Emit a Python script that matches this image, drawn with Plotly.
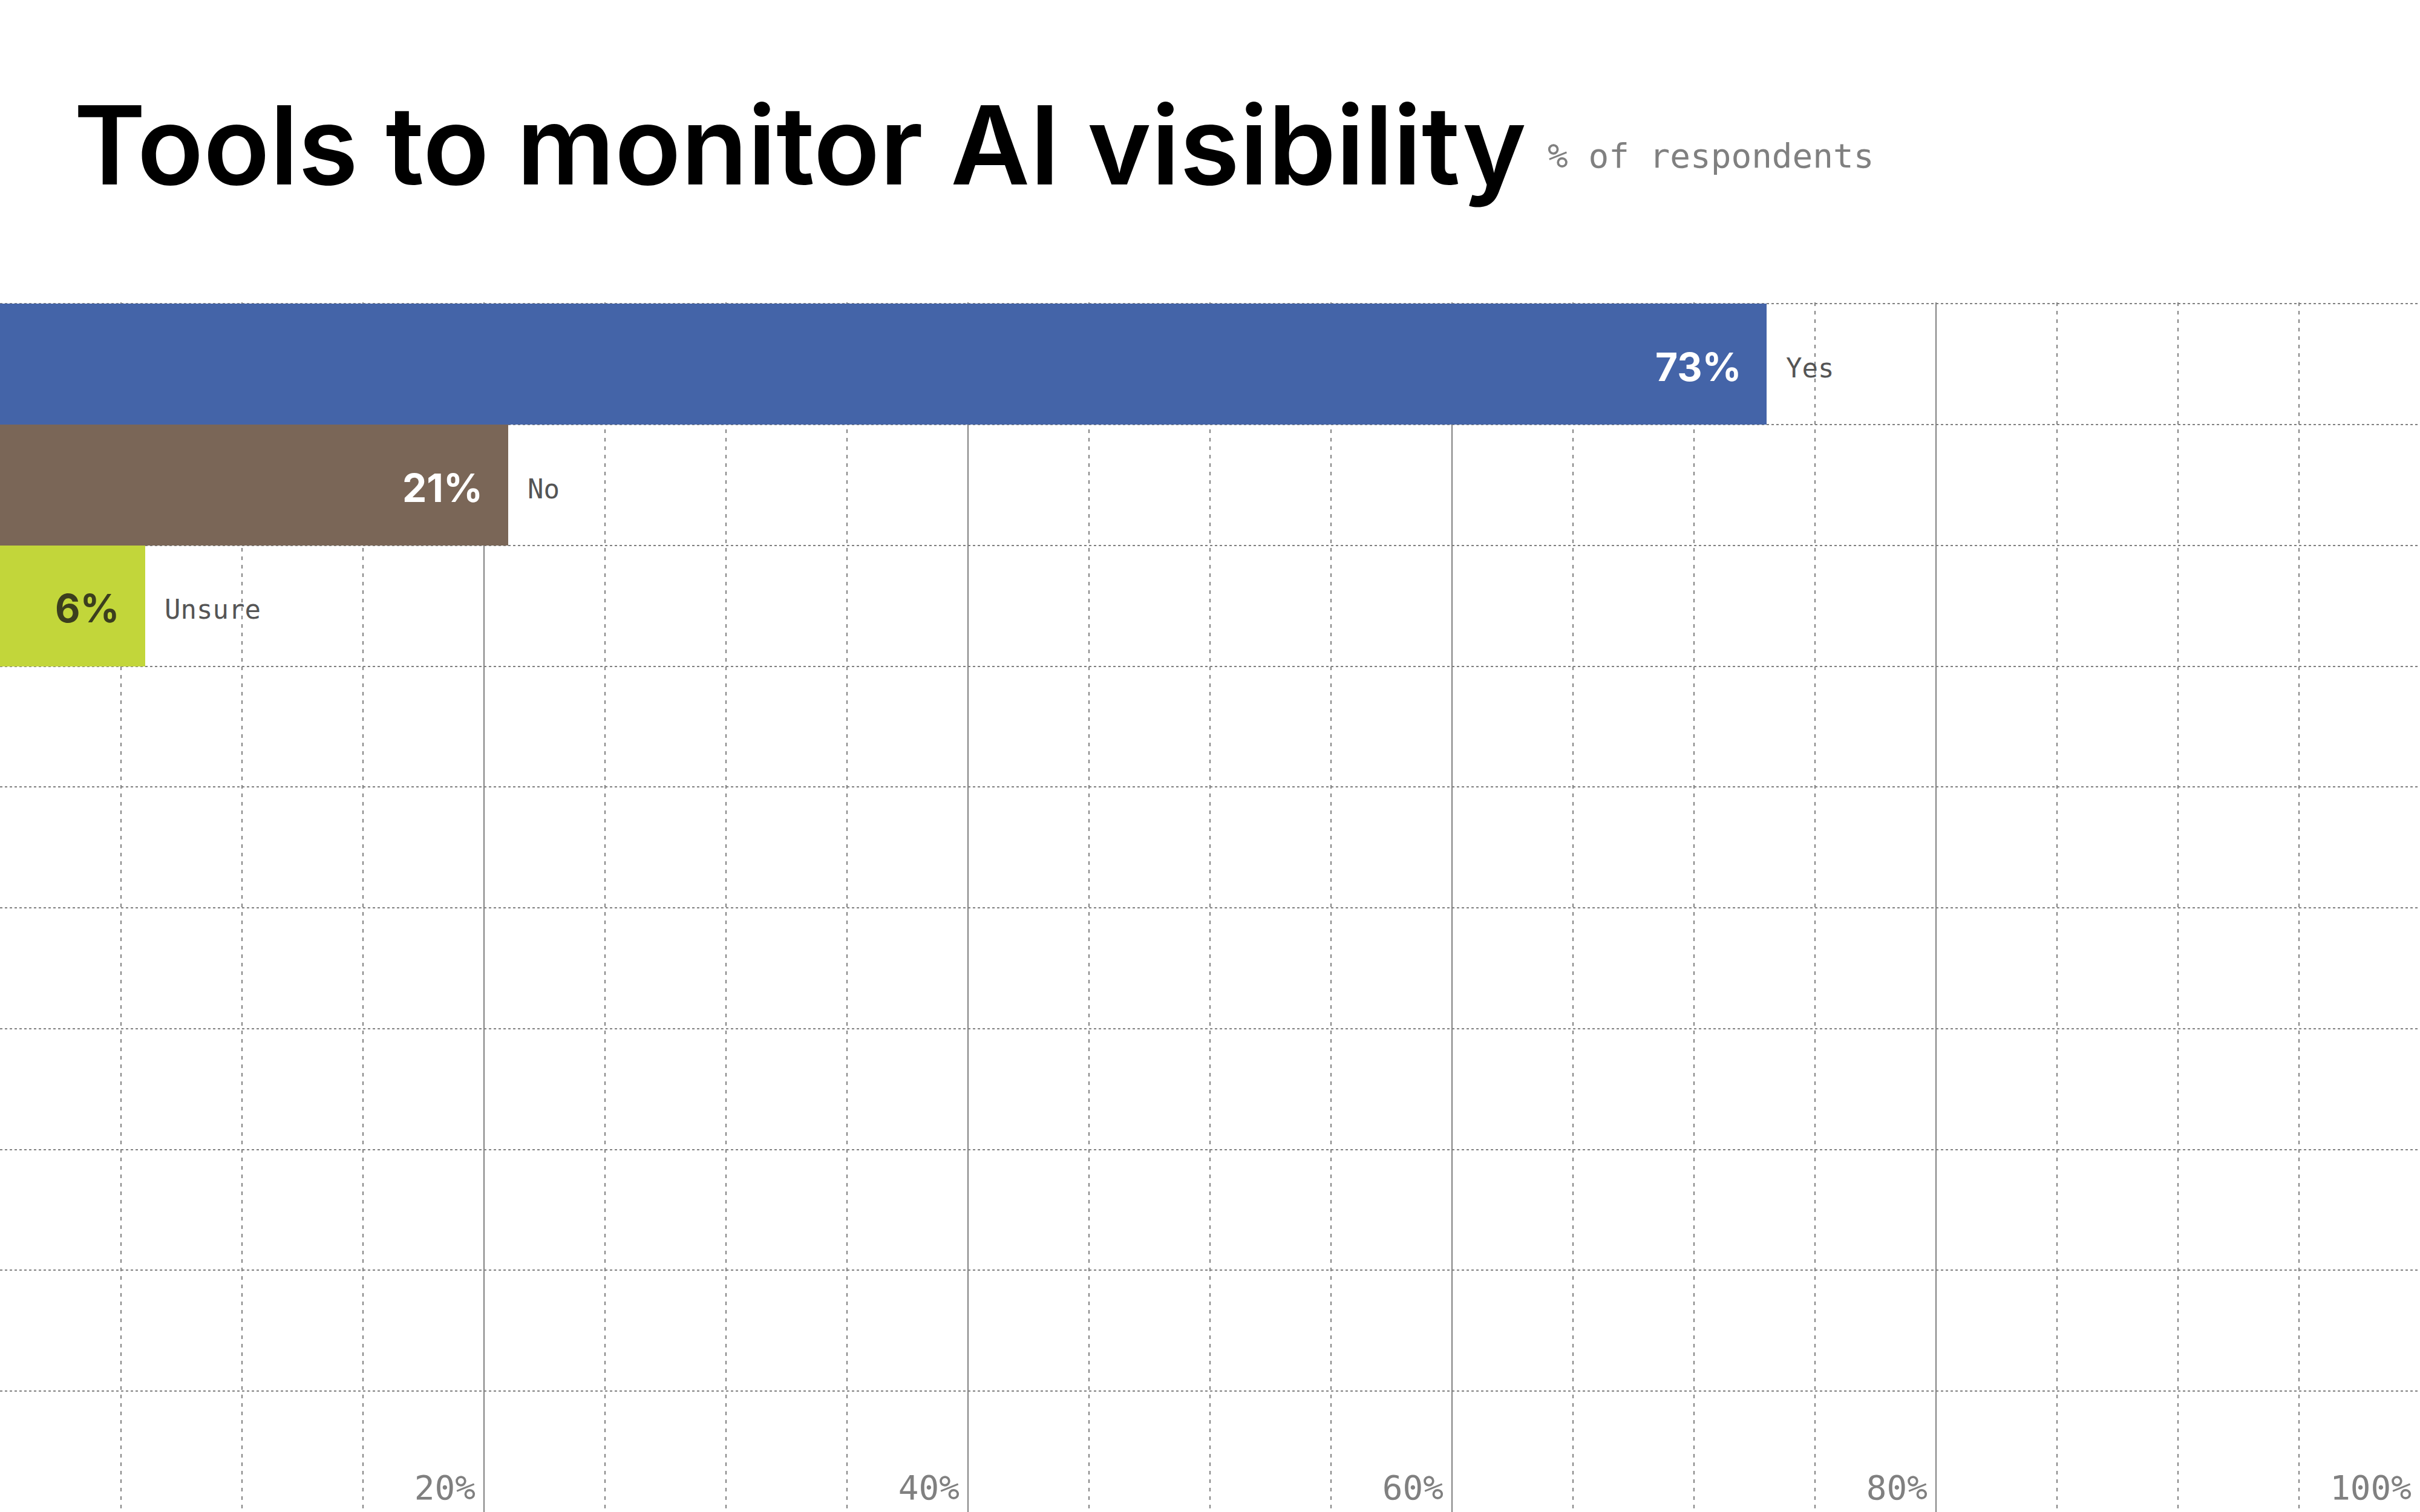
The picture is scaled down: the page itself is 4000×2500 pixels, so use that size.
import plotly.graph_objects as go

# ---- data ----
categories = ["Yes", "No", "Unsure"]
values = [73, 21, 6]
value_labels = ["73%", "21%", "6%"]
row_positions = [0.5, 1.5, 2.5]
bar_colors = ["#4464a8", "#7a6657", "#c2d63a"]
label_colors = ["#ffffff", "#ffffff", "#3b3e1e"]
x_tickvals = [20, 40, 60, 80, 100]
x_ticktext = ["20%", "40%", "60%", "80%", "100%"]
y_gridvals = list(range(0, 11))

title_text = "Tools to monitor AI visibility"
subtitle_text = "% of respondents"

W, H = 4000, 2500
GRID = "#808080"
MONO = "DejaVu Sans Mono"
SANS = "Inter"

fig = go.Figure()
fig.add_trace(go.Bar(
    x=values, y=row_positions, orientation="h", width=1,
    marker=dict(color=bar_colors, line=dict(width=0)),
    hoverinfo="skip", showlegend=False,
))

annotations = []
for v, y, lab, col, cat in zip(values, row_positions, value_labels, label_colors, categories):
    annotations.append(dict(
        x=v, y=y, xref="x", yref="y", text=lab, showarrow=False,
        xanchor="right", yanchor="middle", xshift=-40, yshift=-4,
        font=dict(family=SANS, size=64, color=col, weight=700),
    ))
    annotations.append(dict(
        x=v, y=y, xref="x", yref="y", text=cat, showarrow=False,
        xanchor="left", yanchor="middle", xshift=30, yshift=-6,
        font=dict(family=MONO, size=44, color="#555555"),
    ))

annotations.append(dict(
    x=120 / W, y=1 - 240 / H, xref="paper", yref="paper", text=title_text,
    showarrow=False, xanchor="left", yanchor="middle",
    font=dict(family=SANS, size=180, color="#000000", weight=600),
))
annotations.append(dict(
    x=2556 / W, y=1 - 258 / H, xref="paper", yref="paper", text=subtitle_text,
    showarrow=False, xanchor="left", yanchor="middle",
    font=dict(family=MONO, size=56, color=GRID),
))

fig.update_layout(
    width=W, height=H,
    margin=dict(l=0, r=0, t=0, b=0, pad=0),
    paper_bgcolor="white", plot_bgcolor="white",
    bargap=0,
    annotations=annotations,
    xaxis=dict(
        range=[0, 100], domain=[0, 1], fixedrange=True,
        tickvals=x_tickvals, ticktext=x_ticktext,
        showgrid=True, gridcolor=GRID, gridwidth=2,
        zeroline=False, showline=False, ticks="",
        ticklabelposition="inside left", ticklabelshift=-14, ticklabelstandoff=4,
        tickfont=dict(family=MONO, size=56, color=GRID),
        minor=dict(dtick=5, tick0=0, showgrid=True, gridcolor=GRID,
                   gridwidth=2, griddash="6px,8px"),
        layer="below traces",
    ),
    yaxis=dict(
        range=[10, -0.012], autorange=False, domain=[0, 0.8], fixedrange=True,
        tickvals=y_gridvals, showticklabels=False, ticks="",
        showgrid=True, gridcolor=GRID, gridwidth=2, griddash="4px,4px",
        zeroline=False, showline=False,
    ),
)

fig.write_html("out.html")
